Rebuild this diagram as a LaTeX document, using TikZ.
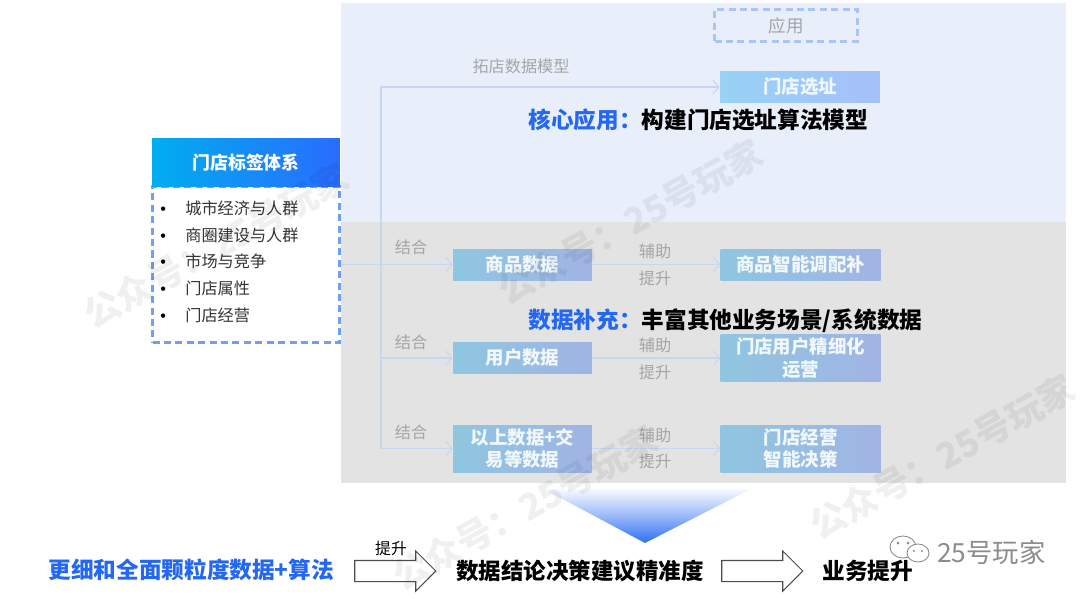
\documentclass[tikz,border=0pt]{standalone}
\usepackage{fontspec}
\setmainfont{Noto Sans CJK SC}
\newfontfamily\latinfont{Liberation Sans}
\usepackage{tikz}
\usetikzlibrary{
  arrows.meta,
  positioning,
  shapes.arrows,
  shapes.geometric,
  calc
}
\definecolor{panelblue}{RGB}{232,239,251}
\definecolor{panelgray}{RGB}{227,227,227}
\definecolor{deepblue}{RGB}{36,104,242}
\definecolor{dashblue}{RGB}{111,159,239}
\definecolor{linkblue}{RGB}{200,215,240}
\definecolor{labelgray}{RGB}{165,165,165}
\definecolor{boxleft}{RGB}{143,198,224}
\definecolor{boxright}{RGB}{161,180,228}
\definecolor{siteleft}{RGB}{152,210,245}
\definecolor{siteright}{RGB}{165,192,250}
\definecolor{headleft}{RGB}{0,174,239}
\definecolor{headright}{RGB}{42,108,255}
\newcommand{\tagitem}[1]{\llap{{\latinfont\color{black}•}\hspace{11pt}}#1}
\tikzset{
  databox/.style={left color=boxleft, right color=boxright, text=white!88!boxleft, align=center, inner sep=0pt,
    font=\fontsize{10.5}{13}\selectfont\bfseries, minimum height=0.62cm},
  srcbox/.style={databox, minimum width=2.78cm, text width=2.5cm},
  appbox/.style={databox, minimum width=3.2cm, text width=3cm},
  link/.style={-{Straight Barb[length=3.5pt,width=8pt]}, linkblue, line width=0.6pt},
  hint/.style={labelgray, font=\fontsize{9.2}{11}\selectfont},
  tagline/.style={anchor=west, text=black!80, inner sep=0pt, font=\fontsize{9.2}{11}\selectfont},
  headline/.style={anchor=west, inner sep=0pt, font=\fontsize{12.9}{15}\selectfont\bfseries},
  bigarrow/.style={single arrow, draw=black!70, fill=white, line width=0.6pt, inner sep=0pt, minimum height=1.62cm,
    single arrow head extend=0.19cm},
  dashframe/.style={line width=1.3pt, dash pattern=on 4pt off 2.5pt},
  watermark/.style={rotate=29, text=black, text opacity=0.06, font=\fontsize{20.5}{24}\selectfont\bfseries}
}

\begin{document}
\begin{tikzpicture}[x=0.02cm, y=-0.02cm]
  \useasboundingbox (0,0) rectangle (1080,599);

  % panels
  \fill[panelblue] (341,3) rectangle (1066,222);
  \fill[panelgray] (341,222) rectangle (1066,483);
  \shade[top color=white, bottom color=deepblue!95!white, middle color=deepblue!45!white] (540,487) -- (755,487) -- (645,543) -- cycle;

  % left tag block
  \node[draw=dashblue, dashframe, minimum width=3.74cm, minimum height=3.12cm, inner sep=0pt] (tagbody) at (246,264.5) {};
  \node[left color=headleft, right color=headright, text=white, font=\fontsize{10.2}{12}\selectfont\bfseries, minimum width=3.76cm, minimum height=0.96cm, inner sep=0pt, above=-1pt of tagbody] (taghead) {门店标签体系};
  \node[tagline] (tagcity) at (185,208) {\tagitem{城市经济与人群}};
  \node[tagline] (tagmall) at (185,235) {\tagitem{商圈建设与人群}};
  \node[tagline] (tagmarket) at (185,261) {\tagitem{市场与竞争}};
  \node[tagline] (tagattr) at (185,288) {\tagitem{门店属性}};
  \node[tagline] (tagoper) at (185,315) {\tagitem{门店经营}};

  % top row
  \node[draw=dashblue!60, dashframe, text=labelgray, font=\fontsize{10}{12}\selectfont, minimum width=2.86cm, minimum height=0.64cm, inner sep=0pt] (apptag) at (786,25.5) {应用};
  \node[appbox, left color=siteleft, right color=siteright] (site) at (800,87) {门店选址};
  \node[hint] (modeltag) at (521,66) {拓店数据模型};

  % data rows
  \node[srcbox] (goods) at (522.5,264.5) {商品数据};
  \node[appbox, right=2.56cm of goods] (goodsapp) {商品智能调配补};
  \node[srcbox] (user) at (522.5,358) {用户数据};
  \node[appbox, minimum height=0.94cm, right=2.56cm of user] (userapp) {门店用户精细化\\运营};
  \node[srcbox, minimum height=0.94cm] (mix) at (522.5,448.5) {以上数据+交\\易等数据};
  \node[appbox, minimum height=0.94cm, right=2.56cm of mix] (mixapp) {门店经营\\智能决策};

  \coordinate (trunk) at (381,264.5);
  \draw[link] (tagbody.east) -- (goods.west);
  \draw[link] (trunk) |- (site.west);
  \draw[link] (trunk) |- (user.west);
  \draw[link] (trunk) |- (mix.west);
  \draw[link] (goods) -- (goodsapp);
  \draw[link] (user) -- (userapp);
  \draw[link] (mix) -- (mixapp);

  \node[hint] (joina) at (411,247) {结合};
  \node[hint] (joinb) at (411,342) {结合};
  \node[hint] (joinc) at (411,432) {结合};
  \node[hint] (helpa) at (655,251) {辅助};
  \node[hint] (lifta) at (655,278) {提升};
  \node[hint] (helpb) at (655,345) {辅助};
  \node[hint] (liftb) at (655,372) {提升};
  \node[hint] (helpc) at (655,435) {辅助};
  \node[hint] (liftc) at (655,461) {提升};

  % headlines
  \node[headline] (corelabel) at (528,120) {\textcolor{deepblue}{核心应用：}构建门店选址算法模型};
  \node[headline] (filllabel) at (528,321) {\textcolor{deepblue}{数据补充：}丰富其他业务场景/系统数据};

  % bottom chain
  \node[headline, text=deepblue] (algo) at (48,570) {更细和全面颗粒度数据+算法};
  \node[bigarrow] (liftarrow) at (390,571) {\rule{0pt}{0.4cm}};
  \node[font=\fontsize{9}{11}\selectfont, inner sep=0pt] (liftword) at (391,549) {提升};
  \node[headline, font=\fontsize{12.8}{15}\selectfont\bfseries] (decision) at (456,571) {数据结论决策建议精准度};
  \node[bigarrow] (bizarrow) at (757,571) {\rule{0pt}{0.4cm}};
  \node[headline] (biz) at (822,571) {业务提升};

  % watermarks
  \node[watermark] (marka) at (216,246) {公众号：25号玩家};
  \node[watermark] (markb) at (630,222) {公众号：25号玩家};
  \node[watermark] (markc) at (525,508) {公众号：25号玩家};
  \node[watermark] (markd) at (942,457) {公众号：25号玩家};

  % account mark
  \draw[black!45, fill=white, line width=0.5pt] (903,547) ellipse (13 and 11);
  \draw[black!45, fill=white, line width=0.5pt] (918,553) ellipse (11 and 9);
  \fill[black!45] (898,543) circle (1.5) (908,543) circle (1.5) (914,551) circle (1.2) (922,551) circle (1.2);
  \node[text=black!45, font=\fontsize{15}{17}\selectfont, inner sep=0pt, anchor=west] (account) at (937,552) {25号玩家};
\end{tikzpicture}
\end{document}
